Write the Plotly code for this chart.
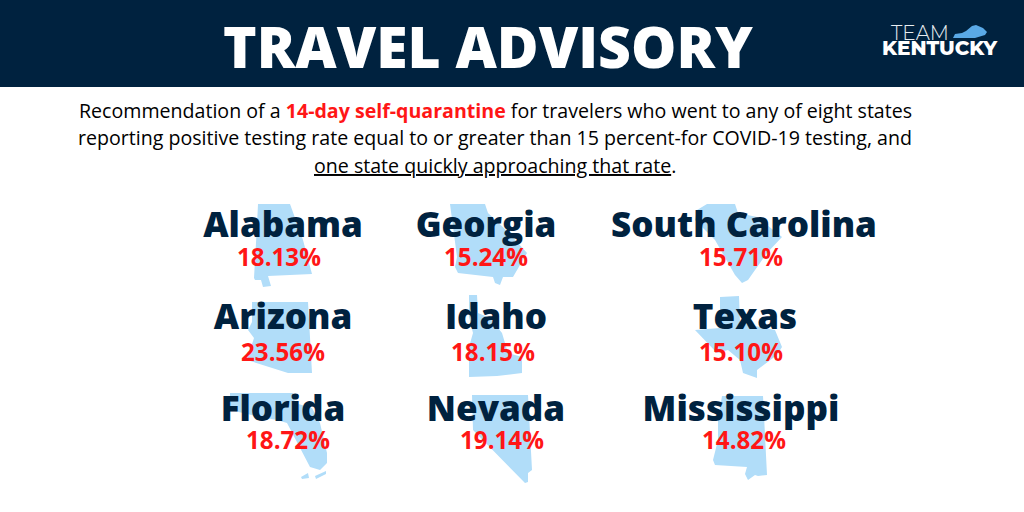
"""Travel advisory graphic: state positivity rates over state silhouettes."""
import plotly.graph_objects as go

# Chart data
STATES = ['Alabama', 'Georgia', 'South Carolina',
          'Arizona', 'Idaho', 'Texas',
          'Florida', 'Nevada', 'Mississippi']
RATES = [18.13, 15.24, 15.71, 23.56, 18.15, 15.10, 18.72, 19.14, 14.82]

# Silhouettes
OUTLINES = {
    'Alabama': [(258, 204), (290, 204), (303, 240), (309, 262), (312, 274), (268, 276),
                (271, 286), (263, 287), (261, 280), (255, 280), (254, 278), (257, 225)],
    'Georgia': [(450, 204), (485, 204), (488, 213), (508, 232), (527, 253), (513, 277),
                (503, 277), (500, 285), (495, 283), (493, 277), (458, 273), (455, 267),
                (457, 257)],
    'South Carolina': [(697, 210), (707, 204), (735, 204), (738, 213), (757, 217), (782, 237),
                       (767, 253), (748, 280), (742, 283), (735, 275), (715, 240), (695, 220)],
    'Arizona': [(252, 302), (308, 302), (312, 373), (288, 373), (247, 360), (250, 350),
                (254, 338), (248, 330), (252, 322)],
    'Idaho': [(469, 295), (477, 295), (478, 313), (490, 318), (502, 333), (508, 353),
              (522, 357), (522, 373), (497, 376), (469, 377), (469, 347), (473, 333),
              (469, 317)],
    'Texas': [(720, 297), (739, 296), (740, 323), (775, 330), (782, 347), (777, 355),
              (757, 370), (757, 378), (743, 373), (740, 360), (728, 350), (717, 353),
              (695, 330), (720, 328)],
    'Florida': [(230, 393), (293, 393), (295, 403), (312, 408), (320, 423), (327, 453),
                (327, 463), (320, 470), (310, 467), (297, 443), (287, 423), (277, 420),
                (260, 417), (230, 410)],
    'Nevada': [(472, 395), (528, 395), (532, 470), (528, 473), (528, 482), (525, 483),
               (473, 430)],
    'Mississippi': [(722, 396), (763, 396), (767, 475), (758, 476), (755, 475), (748, 480),
                    (745, 474), (747, 467), (715, 465), (713, 460), (718, 440), (718, 420)],
}
FLORIDA_KEYS = [[(301, 477), (308, 473), (309, 478), (302, 479)],
                [(315, 476), (326, 471), (326, 474), (316, 479)]]
KENTUCKY = [(953, 38), (955, 34), (962, 33), (966, 31), (972, 26), (976, 25), (983, 28),
            (987, 32), (985, 35), (978, 37), (975, 38)]

# Layout
NAME_X = [283, 486, 744, 283, 496, 745, 283, 496, 741]
NAME_Y = [228, 228, 228, 320, 320, 320, 412, 412, 412]
RATE_X = [279, 486, 741, 283, 493, 741, 288, 502, 744]
RATE_Y = [260, 260, 260, 355, 355, 355, 443, 443, 443]

NAVY = '#00223F'
RED = '#FF1616'
LIGHT_BLUE = '#B1DDF9'
FONT = 'Open Sans'


def _add_outline(fig, points, color):
    fig.add_trace(go.Scatter(
        x=[p[0] for p in points] + [points[0][0]],
        y=[p[1] for p in points] + [points[0][1]],
        mode='lines', fill='toself', fillcolor=color,
        line=dict(color=color, width=0), hoverinfo='skip', showlegend=False
    ))


def _add_text(fig, x, y, text, size, color='black', weight=400):
    fig.add_annotation(
        x=x, y=y, text=text, showarrow=False, xanchor='center', yanchor='middle',
        font=dict(family=FONT, size=size, color=color, weight=weight)
    )


fig = go.Figure()

for state in STATES:
    _add_outline(fig, OUTLINES[state], LIGHT_BLUE)
for key in FLORIDA_KEYS:
    _add_outline(fig, key, LIGHT_BLUE)
_add_outline(fig, KENTUCKY, '#5AA9E6')

fig.add_trace(go.Scatter(
    x=NAME_X, y=NAME_Y, text=STATES, mode='text', hoverinfo='skip', showlegend=False,
    textfont=dict(family=FONT, size=35, color=NAVY, weight=800)
))
fig.add_trace(go.Scatter(
    x=RATE_X, y=RATE_Y, text=[f'{r:.2f}%' for r in RATES], mode='text',
    hoverinfo='skip', showlegend=False,
    textfont=dict(family=FONT, size=24.2, color=RED, weight=700)
))

_add_text(fig, 488, 46, 'TRAVEL ADVISORY', 57, 'white', 800)
_add_text(fig, 495, 110, 'Recommendation of a '
          f'<span style="color:{RED}"><b>14-day self-quarantine</b></span>'
          ' for travelers who went to any of eight states', 19.6)
_add_text(fig, 495, 137, 'reporting positive testing rate equal to or greater than '
          '15 percent-for COVID-19 testing, and', 19.6)
_add_text(fig, 495, 165, '<u>one state quickly approaching that rate</u>.', 19.6)

# Team Kentucky logo
fig.add_annotation(x=920, y=33, text='TEAM', showarrow=False,
                   font=dict(family='Montserrat, Lato', size=20, color='#E8EEF2', weight=300))
fig.add_annotation(x=940, y=48, text='KENTUCKY', showarrow=False,
                   font=dict(family='Montserrat, Lato', size=20, color='white', weight=800))

fig.update_layout(
    width=1024, height=512,
    margin=dict(l=0, r=0, t=0, b=0),
    paper_bgcolor='white', plot_bgcolor='white',
    xaxis=dict(range=[0, 1024], visible=False, fixedrange=True),
    yaxis=dict(range=[512, 0], visible=False, fixedrange=True),
    shapes=[dict(type='rect', x0=0, x1=1024, y0=0, y1=87, fillcolor=NAVY,
                 line_width=0, layer='below')]
)

# the page's default body margin would push the graphic off the window edges
fig.write_html(
    "out.html",
    config={'displayModeBar': False},
    post_script="document.body.style.margin='0';document.body.style.overflow='hidden';"
)
